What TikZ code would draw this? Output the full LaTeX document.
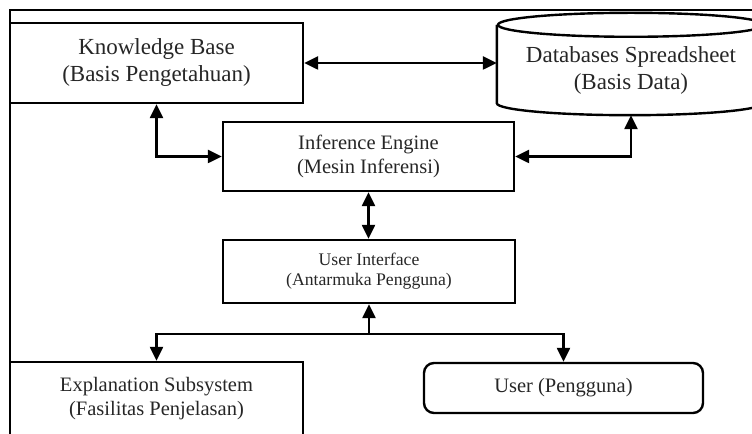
\documentclass[tikz,border=0pt]{standalone}
\usepackage{fontspec}
\setmainfont{Liberation Serif}
\usetikzlibrary{positioning, arrows.meta, calc}

\begin{document}
\begin{tikzpicture}[
  x=0.5pt, y=0.5pt,
  box/.style={draw, line width=1.2pt, align=center, inner sep=0, text=black!85},
  big/.style={font=\fontsize{11.5}{13.5}\selectfont},
  mid/.style={font=\fontsize{10.25}{12}\selectfont},
  small/.style={font=\fontsize{8.85}{10}\selectfont},
  link/.style={{Triangle[length=7pt,width=6.5pt]}-{Triangle[length=7pt,width=6.5pt]}, line width=1.2pt},
  feed/.style={-{Triangle[length=7pt,width=6.5pt]}, line width=1.2pt},
  ]
  \useasboundingbox (0,0) rectangle (752,434);

  % frame
  \draw[line width=1.2pt] (10,-20) -- (10,424) -- (780,424);

  \node[box, big, minimum width=146.5pt, minimum height=40pt] (kb) at (156.5,371) {Knowledge Base\\(Basis Pengetahuan)};
  \node[box, big, draw=none, minimum width=133pt, minimum height=44pt, text=black!85] (db) at (631,364) {Databases Spreadsheet\\(Basis Data)};
  \node[box, mid, minimum width=145.5pt, minimum height=34.5pt] (ie) at (368.5,277.5) {Inference Engine\\(Mesin Inferensi)};
  \node[box, small, minimum width=146pt, minimum height=31.5pt] (ui) at (369,162.5) {User Interface\\(Antarmuka Pengguna)};
  \node[box, mid, minimum width=146.5pt, minimum height=37pt] (ex) at (156.5,35) {Explanation Subsystem\\(Fasilitas Penjelasan)};
  \node[box, mid, rounded corners=5pt, minimum width=139.5pt, minimum height=25pt] (us) at (563.5,46) {User (Pengguna)};

  % cylinder
  \draw[line width=1.2pt] (db.north) ellipse [x radius=66.5pt, y radius=6pt];
  \draw[line width=1.2pt] (db.north west) -- ([yshift=6pt]db.south west)
    arc[start angle=180, end angle=360, x radius=66.5pt, y radius=6pt] -- (db.north east);

  \draw[link] (kb.east) -- (kb.east -| db.west);
  \draw[link] (kb.south) |- (ie.west);
  \draw[link] (ie.east) -| (db.south);
  \draw[link] (ie.south) -- (ie.south |- ui.north);

  \coordinate (split) at ($(ui.south)+(0,-30)$);
  \draw[feed] (split) -- (ui.south);
  \draw[feed] (split) -| (ex.north);
  \draw[feed] (split) -| (us.north);

\end{tikzpicture}
\end{document}
